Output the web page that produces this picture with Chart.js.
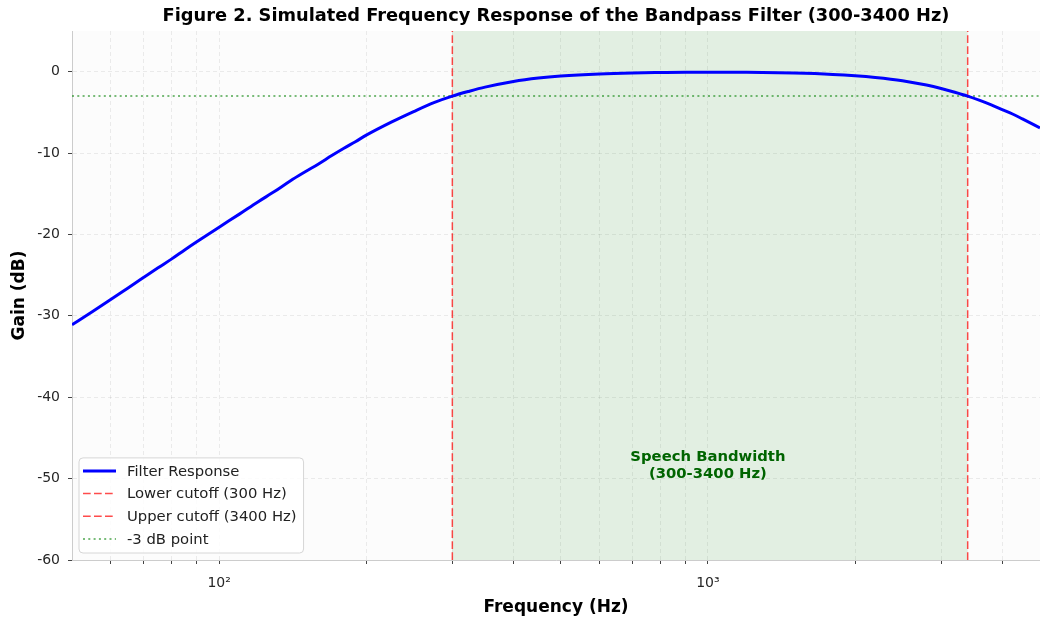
<!DOCTYPE html>
<html>
<head>
<meta charset="utf-8">
<script src="https://cdn.jsdelivr.net/npm/chart.js@4.4.1/dist/chart.umd.min.js"></script>
<style>
  html, body { margin: 0; padding: 0; background: #fff; }
  #wrap { width: 1040px; height: 620px; }
</style>
</head>
<body>
<div id="wrap"><canvas id="freqChart"></canvas></div>
<script>
    // values
    var freqs = [50, 55, 60, 65, 70, 75, 80, 85, 90, 100, 110, 120, 130, 140, 150, 160, 170, 180, 190, 200,
                 225, 250, 275, 300, 325, 350, 400, 450, 500, 600, 700, 800, 900,
                 1000, 1200, 1500, 1800, 2000, 2200, 2500, 2800, 3000, 3200, 3400, 3600, 3800, 4000, 4200, 4400, 4780];
    var gains = [-31.1, -29.5, -28.0, -26.6, -25.3, -24.1, -23.0, -21.9, -20.9, -19.1, -17.5, -16.0, -14.7, -13.4, -12.3, -11.3, -10.3, -9.4, -8.6, -7.8,
                 -6.2, -4.9, -3.8, -3.0, -2.4, -1.9, -1.2, -0.78, -0.53, -0.27, -0.15, -0.1, -0.07,
                 -0.07, -0.08, -0.17, -0.33, -0.49, -0.7, -1.1, -1.64, -2.06, -2.52, -3.0, -3.53, -4.08, -4.65, -5.2, -5.8, -6.9];
    var lowerCutoff = 300;
    var upperCutoff = 3400;
    var halfPowerLevel = -3;
    var xMin = 50, xMax = 4780;
    var yMin = -60, yMax = 5;
    var xTicks = [60, 70, 80, 90, 100, 200, 300, 400, 500, 600, 700, 800, 900, 1000, 2000, 3000, 4000];
    var xTickLabels = { 100: '10²', 1000: '10³' };
    var yTicks = [-60, -50, -40, -30, -20, -10, 0];
    var chartTitle = 'Figure 2. Simulated Frequency Response of the Bandpass Filter (300-3400 Hz)';
    var bandText = ['Speech Bandwidth', '(300-3400 Hz)'];
    var bandTextAt = { x: 1000, y: -48.4 };

    var fontFamily = '"DejaVu Sans", sans-serif';
    var dashed = [7.7, 3.3];
    var dotted = [2, 3.3];

    var plotBackground = {
        id: 'plotBackground',
        beforeDraw: function (chart) {
            var a = chart.chartArea, ctx = chart.ctx;
            ctx.save();
            ctx.fillStyle = '#fcfcfc';
            ctx.fillRect(a.left, a.top, a.right - a.left, a.bottom - a.top);
            ctx.restore();
        },
        // title centred over the plot area, like the reference
        afterDraw: function (chart) {
            var a = chart.chartArea, ctx = chart.ctx;
            ctx.save();
            ctx.font = 'bold 17.8px ' + fontFamily;
            ctx.fillStyle = '#000';
            ctx.textAlign = 'center';
            ctx.textBaseline = 'middle';
            ctx.fillText(chartTitle, (a.left + a.right) / 2, 16);
            ctx.restore();
        }
    };

    var bandShade = {
        id: 'bandShade',
        beforeDatasetsDraw: function (chart) {
            var a = chart.chartArea, ctx = chart.ctx, xs = chart.scales.x;
            var x1 = xs.getPixelForValue(lowerCutoff), x2 = xs.getPixelForValue(upperCutoff);
            ctx.save();
            ctx.fillStyle = 'rgba(0,128,0,0.1)';
            ctx.fillRect(x1, a.top, x2 - x1, a.bottom - a.top);
            ctx.restore();
        },
        afterDatasetsDraw: function (chart) {
            var ctx = chart.ctx;
            var px = chart.scales.x.getPixelForValue(bandTextAt.x);
            var py = chart.scales.y.getPixelForValue(bandTextAt.y);
            ctx.save();
            ctx.font = 'bold 14.8px ' + fontFamily;
            ctx.fillStyle = '#006400';
            ctx.textAlign = 'center';
            ctx.textBaseline = 'middle';
            ctx.fillText(bandText[0], px, py - 8);
            ctx.fillText(bandText[1], px, py + 8.5);
            ctx.restore();
        }
    };

    // legend box in the lower left of the plot
    var legendBox = {
        id: 'legendBox',
        afterDraw: function (chart) {
            var ctx = chart.ctx, a = chart.chartArea;
            var sets = chart.data.datasets;
            ctx.save();
            ctx.font = '14.8px ' + fontFamily;
            var maxW = 0;
            sets.forEach(function (d) { maxW = Math.max(maxW, ctx.measureText(d.label).width); });
            var rowH = 22.7;
            var w = 48 + maxW + 7, h = 13 + rowH * (sets.length - 1) + 14;
            var bx = a.left + 7, by = a.bottom - 7 - h, r = 4;
            ctx.beginPath();
            ctx.moveTo(bx + r, by);
            ctx.lineTo(bx + w - r, by);
            ctx.quadraticCurveTo(bx + w, by, bx + w, by + r);
            ctx.lineTo(bx + w, by + h - r);
            ctx.quadraticCurveTo(bx + w, by + h, bx + w - r, by + h);
            ctx.lineTo(bx + r, by + h);
            ctx.quadraticCurveTo(bx, by + h, bx, by + h - r);
            ctx.lineTo(bx, by + r);
            ctx.quadraticCurveTo(bx, by, bx + r, by);
            ctx.closePath();
            ctx.fillStyle = 'rgba(255,255,255,0.85)';
            ctx.fill();
            ctx.strokeStyle = '#d6d6d6';
            ctx.lineWidth = 1;
            ctx.stroke();
            sets.forEach(function (d, i) {
                var y = by + 13 + i * rowH;
                ctx.beginPath();
                ctx.setLineDash(d.borderDash || []);
                ctx.strokeStyle = d.borderColor;
                ctx.lineWidth = d.borderWidth;
                ctx.moveTo(bx + 4, y);
                ctx.lineTo(bx + 37, y);
                ctx.stroke();
                ctx.setLineDash([]);
                ctx.fillStyle = '#222';
                ctx.textBaseline = 'middle';
                ctx.fillText(d.label, bx + 48, y + 1);
            });
            ctx.restore();
        }
    };

    var responsePoints = freqs.map(function (f, i) { return { x: f, y: gains[i] }; });

    var ctx = document.getElementById('freqChart').getContext('2d');
    var freqChart = new Chart(ctx, {
        type: 'line',
        data: {
            datasets: [{
                label: 'Filter Response',
                data: responsePoints,
                borderColor: '#0000ff',
                borderWidth: 3,
                pointRadius: 0,
                cubicInterpolationMode: 'monotone'
            }, {
                label: 'Lower cutoff (300 Hz)',
                data: [{ x: lowerCutoff, y: yMin }, { x: lowerCutoff, y: yMax }],
                borderColor: 'rgba(255,0,0,0.7)',
                borderWidth: 1.5,
                borderDash: dashed,
                pointRadius: 0
            }, {
                label: 'Upper cutoff (3400 Hz)',
                data: [{ x: upperCutoff, y: yMin }, { x: upperCutoff, y: yMax }],
                borderColor: 'rgba(255,0,0,0.7)',
                borderWidth: 1.5,
                borderDash: dashed,
                pointRadius: 0
            }, {
                label: '-3 dB point',
                data: [{ x: xMin, y: halfPowerLevel }, { x: xMax, y: halfPowerLevel }],
                borderColor: 'rgba(0,128,0,0.7)',
                borderWidth: 1.5,
                borderDash: dotted,
                pointRadius: 0
            }]
        },
        options: {
            responsive: true,
            maintainAspectRatio: false,
            animation: false,
            layout: { padding: { top: 31, left: 0, right: 0, bottom: 0 } },
            plugins: {
                legend: { display: false },
                tooltip: { enabled: false },
                title: { display: false }
            },
            scales: {
                x: {
                    type: 'logarithmic',
                    min: xMin,
                    max: xMax,
                    afterBuildTicks: function (scale) {
                        scale.ticks = xTicks.map(function (v) { return { value: v }; });
                    },
                    afterFit: function (scale) { scale.height = 60; },
                    ticks: {
                        autoSkip: false,
                        maxRotation: 0,
                        padding: 11,
                        color: '#262626',
                        font: { size: 14, family: fontFamily },
                        callback: function (v) { return xTickLabels[v] || ''; }
                    },
                    grid: {
                        color: 'rgba(0,0,0,0.07)',
                        tickColor: '#444',
                        tickLength: 4
                    },
                    border: { color: '#cccccc', width: 1, dash: [4, 3] },
                    title: {
                        display: true,
                        text: 'Frequency (Hz)',
                        color: '#000',
                        font: { size: 17, weight: 'bold', family: fontFamily },
                        padding: { top: 0, bottom: 2 }
                    }
                },
                y: {
                    min: yMin,
                    max: yMax,
                    afterBuildTicks: function (scale) {
                        scale.ticks = yTicks.map(function (v) { return { value: v }; });
                    },
                    afterFit: function (scale) { scale.width = 72; },
                    ticks: {
                        padding: 8,
                        color: '#262626',
                        font: { size: 14, family: fontFamily }
                    },
                    grid: {
                        color: 'rgba(0,0,0,0.07)',
                        tickColor: '#444',
                        tickLength: 4
                    },
                    border: { color: '#cccccc', width: 1, dash: [4, 3] },
                    title: {
                        display: true,
                        text: 'Gain (dB)',
                        color: '#000',
                        font: { size: 17, weight: 'bold', family: fontFamily },
                        padding: { top: 9, bottom: 0 }
                    }
                }
            }
        },
        plugins: [plotBackground, bandShade, legendBox]
    });
</script>
</body>
</html>
